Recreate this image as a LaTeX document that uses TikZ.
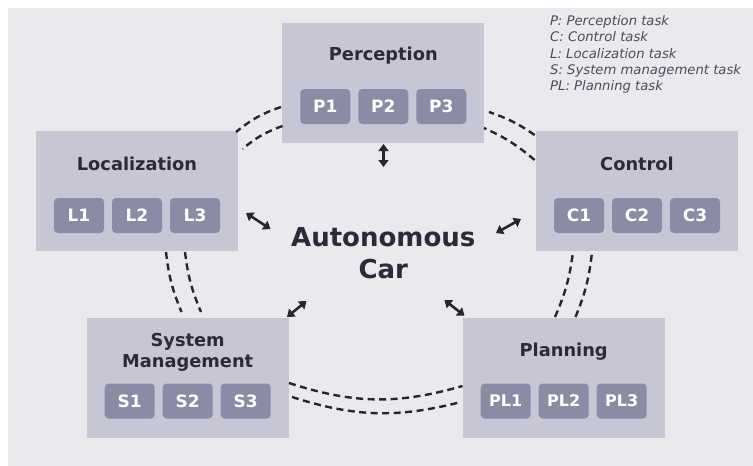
\documentclass[tikz,border=0pt]{standalone}
\usepackage{fontspec}
\setmainfont{DejaVu Sans}
\usetikzlibrary{arrows.meta,calc}
\definecolor{bgc}{HTML}{E9E9EE}
\definecolor{boxc}{HTML}{C6C6D4}
\definecolor{subc}{HTML}{8B8BA5}
\definecolor{txtc}{HTML}{2A2A38}
\definecolor{legc}{HTML}{4C4C5C}
\definecolor{linec}{HTML}{26262C}
\begin{document}
\begin{tikzpicture}[x=1pt,y=-1pt,
  catbox/.style={fill=boxc, minimum width=202pt, minimum height=120pt, inner sep=0pt, draw=none},
  taskbox/.style={fill=subc, rounded corners=4pt, minimum width=50pt, minimum height=35pt, inner sep=0pt, text=white, font=\bfseries\fontsize{17}{17}\selectfont},
  title/.style={text=txtc, font=\bfseries\fontsize{17.8}{21}\selectfont, inner sep=0pt},
  legend/.style={text=legc, font=\itshape\fontsize{13.2}{16}\selectfont, inner sep=0pt, anchor=base west},
  link/.style={dash pattern=on 7pt off 4.5pt, line width=2.4pt, draw=linec},
  dbl/.style={{Triangle[length=7pt,width=10pt]}-{Triangle[length=7pt,width=10pt]}, line width=2.6pt, draw=linec},
]
\useasboundingbox (0,0) rectangle (753,466);
\fill[white] (0,0) rectangle (753,466);
\fill[bgc] (8,8) rectangle (753,466);

% category boxes
\node[catbox] (perc) at (383.3,82.7) {};
\node[catbox] (loc)  at (137,191.2) {};
\node[catbox] (ctrl) at (637,191.2) {};
\node[catbox] (sysm) at (187.7,377.5) {};
\node[catbox] (plan) at (563.7,377.5) {};

% titles
\node[title, anchor=base] (tperc) at (383.3,60.7) {Perception};
\node[title, anchor=base] (tloc)  at (137,170) {Localization};
\node[title, anchor=base] (tctrl) at (637,170) {Control};
\node[title, anchor=base] (tsys1) at (187.7,346) {System};
\node[title, anchor=base] (tsys2) at (187.7,367) {Management};
\node[title, anchor=base] (tplan) at (563.7,356) {Planning};

% task boxes
\node[taskbox] (p1) at (325.3,106.5) {P1};
\node[taskbox] (p2) at (383.3,106.5) {P2};
\node[taskbox] (p3) at (441.3,106.5) {P3};
\node[taskbox] (l1) at (79,215.5) {L1};
\node[taskbox] (l2) at (137,215.5) {L2};
\node[taskbox] (l3) at (195,215.5) {L3};
\node[taskbox] (c1) at (579,215.5) {C1};
\node[taskbox] (c2) at (637,215.5) {C2};
\node[taskbox] (c3) at (695,215.5) {C3};
\node[taskbox] (s1) at (129.7,401) {S1};
\node[taskbox] (s2) at (187.7,401) {S2};
\node[taskbox] (s3) at (245.7,401) {S3};
\node[taskbox, font=\bfseries\fontsize{16}{16}\selectfont] (pl1) at (505.7,401) {PL1};
\node[taskbox, font=\bfseries\fontsize{16}{16}\selectfont] (pl2) at (563.7,401) {PL2};
\node[taskbox, font=\bfseries\fontsize{16}{16}\selectfont] (pl3) at (621.7,401) {PL3};

% centre
\node[text=txtc, font=\bfseries\fontsize{26}{31.7}\selectfont, inner sep=0pt, anchor=base] (car1) at (383.3,246.7) {Autonomous};
\node[text=txtc, font=\bfseries\fontsize{26}{31.7}\selectfont, inner sep=0pt, anchor=base] (car2) at (383.3,278.3) {Car};

% legend
\node[legend] (lg1) at (550,25.7) {P: Perception task};
\node[legend] (lg2) at (550,41.8) {C: Control task};
\node[legend] (lg3) at (550,58) {L: Localization task};
\node[legend] (lg4) at (550,74.2) {S: System management task};
\node[legend] (lg5) at (550,90.4) {PL: Planning task};

% dashed link end points
\coordinate (pla) at (281,107);   \coordinate (lpa) at (236,132);
\coordinate (plb) at (282.5,126); \coordinate (lpb) at (242.5,149);
\coordinate (lsa) at (166,252);   \coordinate (sla) at (181.5,312);
\coordinate (lsb) at (185,252);   \coordinate (slb) at (201,312);
\coordinate (spa) at (289,383);   \coordinate (psa) at (462.5,386);
\coordinate (spb) at (292,397);   \coordinate (psb) at (461,402);
\coordinate (pca) at (555,317);   \coordinate (cpa) at (573,252);
\coordinate (pcb) at (575.5,317); \coordinate (cpb) at (592,252);
\coordinate (cqa) at (534.6,135); \coordinate (qca) at (489,112);
\coordinate (cqb) at (534.6,160); \coordinate (qcb) at (484,128);

\draw[link] (pla) to[bend right=10] (lpa);
\draw[link] (plb) to[bend right=10] (lpb);
\draw[link] (lsa) to[bend right=8] (sla);
\draw[link] (lsb) to[bend right=8] (slb);
\draw[link] (spa) to[bend right=17] (psa);
\draw[link] (spb) to[bend right=16] (psb);
\draw[link] (pca) to[bend right=8] (cpa);
\draw[link] (pcb) to[bend right=8] (cpb);
\draw[link] (cqa) to[bend right=8] (qca);
\draw[link] (cqb) to[bend right=8] (qcb);

% arrows to the centre
\coordinate (a1s) at (383.5,144); \coordinate (a1e) at (383.5,167);
\coordinate (a2s) at (246,213);   \coordinate (a2e) at (270.5,229);
\coordinate (a3s) at (521,219);   \coordinate (a3e) at (496,233);
\coordinate (a4s) at (287,317);   \coordinate (a4e) at (306.5,301);
\coordinate (a5s) at (444.4,300); \coordinate (a5e) at (464.5,315.7);
\draw[dbl] (a1s) -- (a1e);
\draw[dbl] (a2s) -- (a2e);
\draw[dbl] (a3s) -- (a3e);
\draw[dbl] (a4s) -- (a4e);
\draw[dbl] (a5s) -- (a5e);
\end{tikzpicture}
\end{document}
